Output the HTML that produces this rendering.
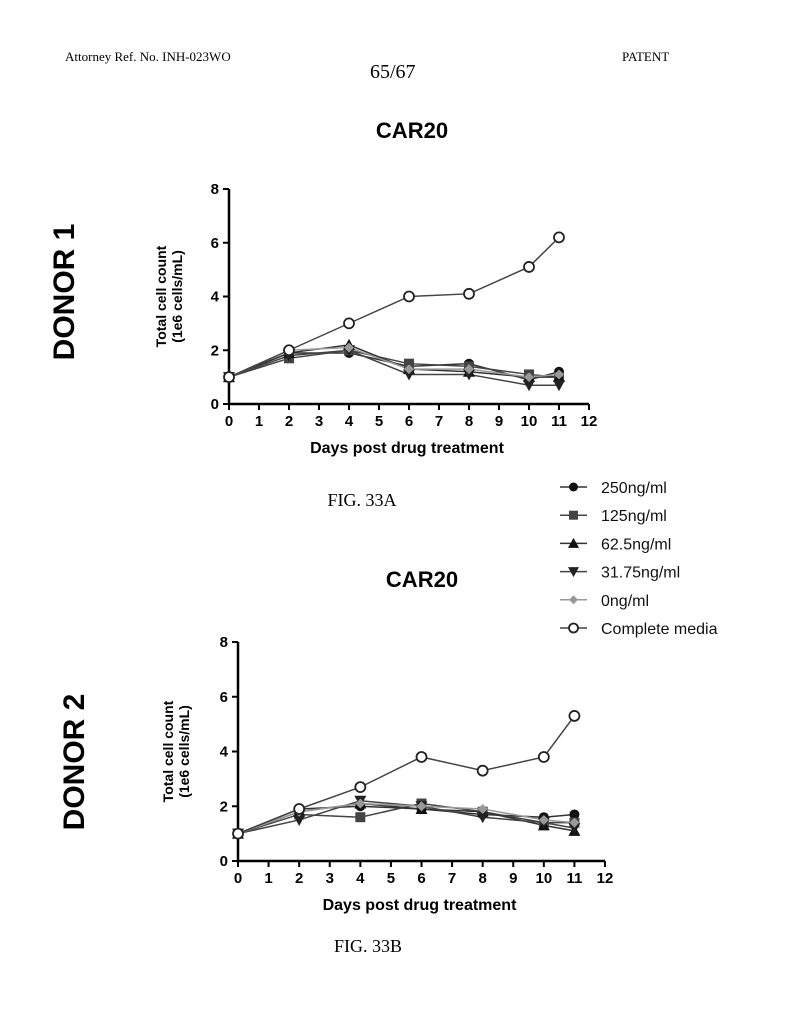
<!DOCTYPE html>
<html><head><meta charset="utf-8"><style>
body{margin:0;background:#fff;}
svg{display:block;}
</style></head><body>
<svg id="s" width="790" height="1024" xmlns="http://www.w3.org/2000/svg">
<text x="65" y="61" font-family="Liberation Serif, serif" font-size="13">Attorney Ref. No. INH-023WO</text>
<text x="370" y="78" font-family="Liberation Serif, serif" font-size="20">65/67</text>
<text x="622" y="61" font-family="Liberation Serif, serif" font-size="13">PATENT</text>
<text x="412" y="138" text-anchor="middle" font-family="Liberation Sans, sans-serif" font-weight="bold" font-size="22">CAR20</text>
<text x="422" y="587" text-anchor="middle" font-family="Liberation Sans, sans-serif" font-weight="bold" font-size="22">CAR20</text>
<text transform="translate(74,292) rotate(-90)" text-anchor="middle" font-family="Liberation Sans, sans-serif" font-weight="bold" font-size="30">DONOR 1</text>
<text transform="translate(84,762) rotate(-90)" text-anchor="middle" font-family="Liberation Sans, sans-serif" font-weight="bold" font-size="30">DONOR 2</text>
<text x="362" y="506" text-anchor="middle" font-family="Liberation Serif, serif" font-size="18">FIG. 33A</text>
<text x="368" y="952" text-anchor="middle" font-family="Liberation Serif, serif" font-size="18">FIG. 33B</text>
<g id="legend"></g>
<g id="c1"></g>
<g id="c2"></g>
</svg>
<script>
const days = [0, 2, 4, 6, 8, 10, 11];
const seriesNames = ["250ng/ml","125ng/ml","62.5ng/ml","31.75ng/ml","0ng/ml","Complete media"];
const xTicks = [0,1,2,3,4,5,6,7,8,9,10,11,12];
const yTicks = [0,2,4,6,8];
const d1_250 = [1, 1.9, 1.9, 1.4, 1.5, 0.9, 1.2];
const d1_125 = [1, 1.7, 2.0, 1.5, 1.4, 1.1, 1.0];
const d1_62 = [1, 1.9, 2.2, 1.3, 1.2, 1.0, 1.0];
const d1_31 = [1, 1.8, 2.0, 1.1, 1.1, 0.7, 0.7];
const d1_0 = [1, 2.0, 2.1, 1.3, 1.3, 1.0, 1.1];
const d1_cm = [1, 2.0, 3.0, 4.0, 4.1, 5.1, 6.2];
const d2_250 = [1, 1.9, 2.0, 1.9, 1.7, 1.6, 1.7];
const d2_125 = [1, 1.7, 1.6, 2.1, 1.8, 1.4, 1.4];
const d2_62 = [1, 1.8, 2.1, 1.9, 1.8, 1.3, 1.1];
const d2_31 = [1, 1.5, 2.2, 2.0, 1.6, 1.4, 1.2];
const d2_0 = [1, 1.8, 2.1, 2.0, 1.9, 1.5, 1.4];
const d2_cm = [1, 1.9, 2.7, 3.8, 3.3, 3.8, 5.3];

const NS="http://www.w3.org/2000/svg";
const styles=[{m:"circle",c:"#111",line:"#333"},{m:"square",c:"#444",line:"#444"},{m:"tri",c:"#111",line:"#333"},{m:"dtri",c:"#222",line:"#444"},{m:"diamond",c:"#999",line:"#999"},{m:"open",c:"#222",line:"#444"}];
function mk(tag,attrs,parent){const e=document.createElementNS(NS,tag);for(const k in attrs)e.setAttribute(k,attrs[k]);parent.appendChild(e);return e;}
function marker(g,type,x,y,col,sc){
  sc=sc||1;let e;const r=5*sc;
  if(type==="circle")e=mk("circle",{cx:x,cy:y,r:r,fill:col},g);
  else if(type==="open")e=mk("circle",{cx:x,cy:y,r:r,fill:"#fff",stroke:col,"stroke-width":1.8},g);
  else if(type==="square")e=mk("rect",{x:x-r,y:y-r,width:2*r,height:2*r,fill:col},g);
  else if(type==="tri")e=mk("polygon",{points:`${x},${y-r-1} ${x-r-1},${y+r} ${x+r+1},${y+r}`,fill:col},g);
  else if(type==="dtri")e=mk("polygon",{points:`${x},${y+r+1} ${x-r-1},${y-r} ${x+r+1},${y-r}`,fill:col},g);
  else e=mk("polygon",{points:`${x},${y-r} ${x+r},${y} ${x},${y+r} ${x-r},${y}`,fill:col},g);
  return e;
}
function chart(gid,x0,x12,y0,y8,data,yTitleX){
  const g=document.getElementById(gid);
  const X=v=>x0+(x12-x0)*v/12, Y=v=>y0+(y8-y0)*v/8;
  const ax=mk("path",{d:`M${X(0)},${Y(8)} L${X(0)},${Y(0)} L${X(12)},${Y(0)}`,fill:"none",stroke:"#000","stroke-width":2.5},g);
  
  
  xTicks.forEach(t=>{
    mk("line",{x1:X(t),x2:X(t),y1:Y(0),y2:Y(0)+6,stroke:"#000","stroke-width":2},g);
    const tx=mk("text",{x:X(t),y:Y(0)+22,"text-anchor":"middle","font-family":"Liberation Sans, sans-serif","font-weight":"bold","font-size":15},g);
    tx.textContent=t;
    
    
  });
  yTicks.forEach(t=>{
    mk("line",{x1:X(0)-6,x2:X(0),y1:Y(t),y2:Y(t),stroke:"#000","stroke-width":2},g);
    const tx=mk("text",{x:X(0)-10,y:Y(t)+5,"text-anchor":"end","font-family":"Liberation Sans, sans-serif","font-weight":"bold","font-size":15},g);
    tx.textContent=t;
    
    
  });
  const xt=mk("text",{x:X(6)-2,y:Y(0)+49,"text-anchor":"middle","font-family":"Liberation Sans, sans-serif","font-weight":"bold","font-size":16},g);
  xt.textContent="Days post drug treatment";
  
  
  const ym=(Y(0)+Y(8))/2;
  const yt=mk("text",{transform:`translate(${yTitleX},${ym}) rotate(-90)`,"text-anchor":"middle","font-family":"Liberation Sans, sans-serif","font-weight":"bold","font-size":14},g);
  mk("tspan",{x:0,dy:0},yt).textContent="Total cell count";
  mk("tspan",{x:0,dy:16},yt).textContent="(1e6 cells/mL)";
  
  
  data.forEach((s,i)=>{
    const st=styles[i];
    const pl=mk("polyline",{points:s.map((v,j)=>X(days[j])+","+Y(v)).join(" "),fill:"none",stroke:st.line,"stroke-width":1.5},g);
    
    
  });
  data.forEach((s,i)=>{
    const st=styles[i];
    s.forEach((v,j)=>{
      const m=marker(g,st.m,X(days[j]),Y(v),st.c);
      
      
    });
  });
}
chart("c1",229,589,404,189,[d1_250,d1_125,d1_62,d1_31,d1_0,d1_cm],166);
chart("c2",238,605,861,642,[d2_250,d2_125,d2_62,d2_31,d2_0,d2_cm],173);
const lg=document.getElementById("legend");
seriesNames.forEach((n,i)=>{
  const y=487+i*28.2, st=styles[i];
  mk("line",{x1:560,x2:587,y1:y,y2:y,stroke:st.line,"stroke-width":1.5},lg);
  marker(lg,st.m,573.5,y,st.c,0.9);
  const t=mk("text",{x:601,y:y+6,"font-family":"Liberation Sans, sans-serif","font-size":16,fill:"#111"},lg);
  t.textContent=n;
  
  
});
</script>
</body></html>
